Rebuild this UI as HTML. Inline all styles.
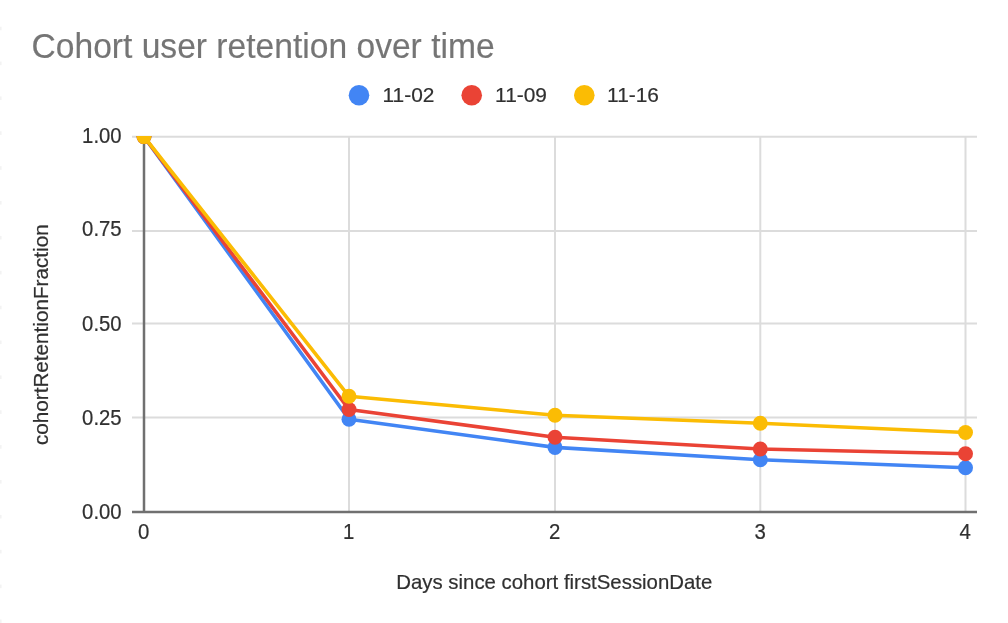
<!DOCTYPE html>
<html><head><meta charset="utf-8">
<style>
html,body{margin:0;padding:0;background:#fff;}
body{width:1008px;height:623px;overflow:hidden;position:relative;font-family:"Liberation Sans",sans-serif;}
svg{position:absolute;left:0;top:0;filter:blur(0.65px);}
text{font-family:"Liberation Sans",sans-serif;}
</style></head><body>
<svg width="1008" height="623" viewBox="0 0 1008 623">
<defs><clipPath id="plot"><rect x="100" y="136" width="908" height="487"/></clipPath></defs>
<rect x="0" y="0" width="1008" height="623" fill="#fff"/>
<g fill="#f3f3f3"><rect x="0" y="26.7" width="1.6" height="3.6"/><rect x="0" y="61.6" width="1.6" height="3.6"/><rect x="0" y="96.4" width="1.6" height="3.6"/><rect x="0" y="131.3" width="1.6" height="3.6"/><rect x="0" y="166.2" width="1.6" height="3.6"/><rect x="0" y="201.0" width="1.6" height="3.6"/><rect x="0" y="235.9" width="1.6" height="3.6"/><rect x="0" y="270.8" width="1.6" height="3.6"/><rect x="0" y="305.7" width="1.6" height="3.6"/><rect x="0" y="340.5" width="1.6" height="3.6"/><rect x="0" y="375.4" width="1.6" height="3.6"/><rect x="0" y="410.3" width="1.6" height="3.6"/><rect x="0" y="445.1" width="1.6" height="3.6"/><rect x="0" y="480.0" width="1.6" height="3.6"/><rect x="0" y="514.9" width="1.6" height="3.6"/><rect x="0" y="549.8" width="1.6" height="3.6"/><rect x="0" y="584.6" width="1.6" height="3.6"/><rect x="0" y="619.5" width="1.6" height="3.6"/></g>
<text x="31.5" y="57.7" font-size="33.6" fill="#757575" stroke="#757575" stroke-width="0.15" text-anchor="start" transform="matrix(1,0,0,1.022,0,-1.269)">Cohort user retention over time</text>
<circle cx="359" cy="95.3" r="10.3" fill="#4285f4"/>
<text x="382.5" y="101.8" font-size="20.9" fill="#303030" stroke="#303030" stroke-width="0.2" text-anchor="start" transform="matrix(1,0,0,1.0,0,-0.000)">11-02</text>
<circle cx="471.7" cy="95.3" r="10.3" fill="#ea4335"/>
<text x="495.1" y="101.8" font-size="20.9" fill="#303030" stroke="#303030" stroke-width="0.2" text-anchor="start" transform="matrix(1,0,0,1.0,0,-0.000)">11-09</text>
<circle cx="584.3" cy="95.3" r="10.3" fill="#fbbc04"/>
<text x="607.1" y="101.8" font-size="20.9" fill="#303030" stroke="#303030" stroke-width="0.2" text-anchor="start" transform="matrix(1,0,0,1.0,0,-0.000)">11-16</text>
<g stroke="#dcdcdc" stroke-width="2.0" fill="none">
<line x1="132" y1="136.8" x2="977" y2="136.8"/>
<line x1="132" y1="231.0" x2="977" y2="231.0"/>
<line x1="132" y1="323.4" x2="977" y2="323.4"/>
<line x1="132" y1="417.6" x2="977" y2="417.6"/>
<line x1="349" y1="136" x2="349" y2="511"/>
<line x1="555" y1="136" x2="555" y2="511"/>
<line x1="760.3" y1="136" x2="760.3" y2="511"/>
<line x1="965.5" y1="136" x2="965.5" y2="511"/>
</g>
<g stroke="#707070" stroke-width="2.5" fill="none"><line x1="144" y1="136" x2="144" y2="512"/><line x1="132" y1="511.9" x2="977" y2="511.9"/></g>
<text x="121.6" y="143.2" font-size="20.3" fill="#303030" stroke="#303030" stroke-width="0.2" text-anchor="end" transform="matrix(1,0,0,1.07,0,-10.024)">1.00</text>
<text x="121.6" y="236.3" font-size="20.3" fill="#303030" stroke="#303030" stroke-width="0.2" text-anchor="end" transform="matrix(1,0,0,1.07,0,-16.541)">0.75</text>
<text x="121.6" y="330.9" font-size="20.3" fill="#303030" stroke="#303030" stroke-width="0.2" text-anchor="end" transform="matrix(1,0,0,1.07,0,-23.163)">0.50</text>
<text x="121.6" y="424.9" font-size="20.3" fill="#303030" stroke="#303030" stroke-width="0.2" text-anchor="end" transform="matrix(1,0,0,1.07,0,-29.743)">0.25</text>
<text x="121.6" y="518.7" font-size="20.3" fill="#303030" stroke="#303030" stroke-width="0.2" text-anchor="end" transform="matrix(1,0,0,1.07,0,-36.309)">0.00</text>
<text x="143.8" y="538.6" font-size="20.4" fill="#303030" stroke="#303030" stroke-width="0.2" text-anchor="middle" transform="matrix(1,0,0,1.075,0,-40.395)">0</text>
<text x="348.8" y="538.6" font-size="20.4" fill="#303030" stroke="#303030" stroke-width="0.2" text-anchor="middle" transform="matrix(1,0,0,1.075,0,-40.395)">1</text>
<text x="554.8" y="538.6" font-size="20.4" fill="#303030" stroke="#303030" stroke-width="0.2" text-anchor="middle" transform="matrix(1,0,0,1.075,0,-40.395)">2</text>
<text x="760.0999999999999" y="538.6" font-size="20.4" fill="#303030" stroke="#303030" stroke-width="0.2" text-anchor="middle" transform="matrix(1,0,0,1.075,0,-40.395)">3</text>
<text x="965.3" y="538.6" font-size="20.4" fill="#303030" stroke="#303030" stroke-width="0.2" text-anchor="middle" transform="matrix(1,0,0,1.075,0,-40.395)">4</text>
<text x="554.3" y="588.8" font-size="20.4" fill="#303030" stroke="#303030" stroke-width="0.2" text-anchor="middle" transform="matrix(1,0,0,1.035,0,-20.608)">Days since cohort firstSessionDate</text>
<g transform="translate(47.7,334.7) rotate(-90)"><text x="0" y="0" font-size="20.7" fill="#303030" stroke="#303030" stroke-width="0.2" text-anchor="middle" transform="matrix(1,0,0,1.0,0,-0.000)">cohortRetentionFraction</text></g>
<g clip-path="url(#plot)" fill="none" stroke-width="3.6" stroke-linejoin="round">
<polyline stroke="#4285f4" points="144,136.6 349,419.3 555,447.4 760.3,459.8 965.5,467.7"/>
<g fill="#4285f4"><circle cx="144" cy="136.6" r="7.5"/><circle cx="349" cy="419.3" r="7.5"/><circle cx="555" cy="447.4" r="7.5"/><circle cx="760.3" cy="459.8" r="7.5"/><circle cx="965.5" cy="467.7" r="7.5"/></g>
<polyline stroke="#ea4335" points="144,136.6 349,409.5 555,437.2 760.3,449 965.5,453.8"/>
<g fill="#ea4335"><circle cx="144" cy="136.6" r="7.5"/><circle cx="349" cy="409.5" r="7.5"/><circle cx="555" cy="437.2" r="7.5"/><circle cx="760.3" cy="449" r="7.5"/><circle cx="965.5" cy="453.8" r="7.5"/></g>
<polyline stroke="#fbbc04" points="144,136.6 349,396.3 555,415.2 760.3,423.3 965.5,432.5"/>
<g fill="#fbbc04"><circle cx="144" cy="136.6" r="7.5"/><circle cx="349" cy="396.3" r="7.5"/><circle cx="555" cy="415.2" r="7.5"/><circle cx="760.3" cy="423.3" r="7.5"/><circle cx="965.5" cy="432.5" r="7.5"/></g>
</g>
</svg>
</body></html>
